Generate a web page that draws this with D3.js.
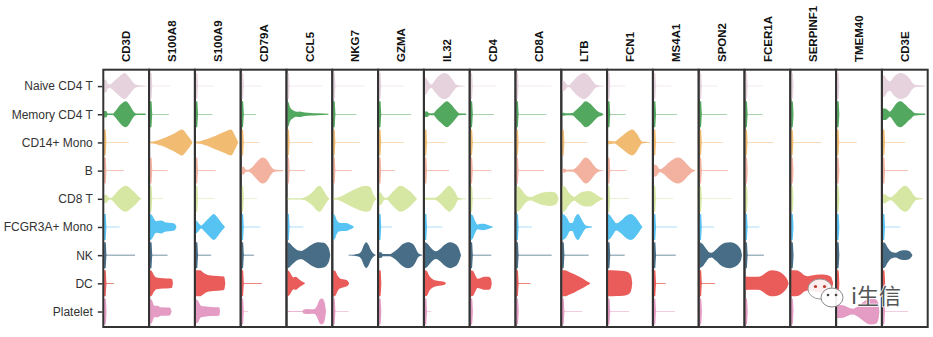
<!DOCTYPE html>
<html><head><meta charset="utf-8">
<script src="https://cdn.jsdelivr.net/npm/d3@7"></script>
<style>body{margin:0;background:#fff}svg{display:block}</style>
</head><body><svg id="chart" width="933" height="337"></svg>
<script>
const cellTypes = ["Naive CD4 T","Memory CD4 T","CD14+ Mono","B","CD8 T","FCGR3A+ Mono","NK","DC","Platelet"];
const cellColors = ["#E5D2DD","#53A85F","#F1BB72","#F3B1A0","#D6E7A3","#57C3F3","#476D87","#E95C59","#E59CC4"];
const genes = ["CD3D","S100A8","S100A9","CD79A","CCL5","NKG7","GZMA","IL32","CD4","CD8A","LTB","FCN1","MS4A1","SPON2","FCER1A","SERPINF1","TMEM40","CD3E"];

// One entry per cell type. A number = a zero-spike violin whose sparse tail reaches that fraction of the gene's max;
// an array = violin profile as [expression (fraction of gene max), relative density].
const vCD3D = [
 [[0,0.45],[0.04,0.5],[0.08,0.2],[0.12,0.12],[0.2,0.3],[0.3,0.6],[0.4,0.9],[0.47,1],[0.55,0.75],[0.63,0.4],[0.7,0.15],[0.8,0.06],[0.96,0.03]],
 [[0,0.25],[0.05,0.25],[0.08,0.06],[0.2,0.06],[0.24,0.2],[0.3,0.45],[0.39,0.8],[0.49,1],[0.58,0.7],[0.64,0.35],[0.7,0.1],[0.75,0.05],[0.94,0.05]],
 0.56, 0.45,
 [[0,0.32],[0.05,0.32],[0.1,0.12],[0.15,0.06],[0.23,0.3],[0.34,0.7],[0.49,1],[0.64,0.65],[0.75,0.3],[0.81,0.08],[0.85,0.02]],
 0.35, 0.7, 0.22, 0
];
const vS100A8 = [
 0.47, 0.43,
 [[0,0.06],[0.13,0.12],[0.28,0.28],[0.43,0.5],[0.58,0.75],[0.73,1],[0.84,0.6],[0.92,0.25],[0.96,0.03]],
 0.4, 0.3,
 [[0,1],[0.05,0.9],[0.1,0.6],[0.14,0.45],[0.25,0.5],[0.36,0.35],[0.5,0.3],[0.56,0.25],[0.6,0.02]],
 0.4,
 [[0,1],[0.04,0.95],[0.09,0.65],[0.15,0.45],[0.3,0.4],[0.45,0.37],[0.5,0.33],[0.52,0.02]],
 [[0,0.95],[0.04,0.9],[0.1,0.45],[0.17,0.45],[0.25,0.32],[0.45,0.3],[0.49,0.02]]
];
const vS100A9 = [
 0.4, 0.38,
 [[0,0.08],[0.1,0.1],[0.2,0.2],[0.35,0.38],[0.5,0.6],[0.64,0.8],[0.8,1],[0.88,0.6],[0.93,0.25],[0.96,0.03]],
 0.45, 0.42,
 [[0,0.5],[0.03,0.45],[0.08,0.25],[0.12,0.12],[0.2,0.35],[0.3,0.7],[0.41,1],[0.51,0.65],[0.6,0.25],[0.66,0.02]],
 0.35,
 [[0,1],[0.1,1],[0.15,0.9],[0.22,0.72],[0.3,0.62],[0.5,0.57],[0.64,0.52],[0.67,0.02]],
 [[0,0.95],[0.05,0.85],[0.12,0.45],[0.2,0.4],[0.35,0.35],[0.53,0.33],[0.55,0.02]]
];
const vCD79A = [
 0.45, 0.33, 0.4,
 [[0,0.3],[0.05,0.3],[0.09,0.1],[0.15,0.06],[0.22,0.2],[0.33,0.6],[0.48,1],[0.59,0.75],[0.66,0.35],[0.72,0.12],[0.78,0.06],[0.94,0.04]],
 0.35, 0.43, 0.28, 0.46, 0.15
];
const vCCL5 = [
 0.8,
 [[0,1],[0.03,0.9],[0.06,0.55],[0.13,0.3],[0.21,0.2],[0.28,0.22],[0.4,0.14],[0.54,0.1],[0.69,0.07],[0.93,0.04]],
 0.58, 0.4,
 [[0,0.1],[0.05,0.05],[0.3,0.05],[0.4,0.12],[0.49,0.3],[0.58,0.55],[0.67,0.9],[0.73,1],[0.83,0.6],[0.9,0.2],[0.95,0.03]],
 0.36,
 [[0,1],[0.04,0.95],[0.13,0.65],[0.25,0.35],[0.32,0.32],[0.4,0.45],[0.5,0.7],[0.6,0.9],[0.7,1],[0.82,0.95],[0.9,0.75],[0.95,0.4],[0.97,0.05]],
 [[0,1],[0.05,0.9],[0.1,0.6],[0.14,0.45],[0.19,0.5],[0.25,0.35],[0.31,0.2],[0.36,0.1],[0.4,0.02]],
 [[0,0.05],[0.05,0.03],[0.34,0.03],[0.37,0.15],[0.45,0.2],[0.55,0.18],[0.62,0.2],[0.68,0.5],[0.73,0.9],[0.78,1],[0.83,0.85],[0.86,0.4],[0.875,0.03]]
];
const vNKG7 = [
 0.72, 0.53, 0.6, 0.42,
 [[0,0.1],[0.05,0.06],[0.13,0.12],[0.27,0.35],[0.42,0.62],[0.57,0.85],[0.75,1],[0.84,0.9],[0.9,0.45],[0.95,0.12],[0.98,0.03]],
 [[0,1],[0.04,0.9],[0.08,0.55],[0.13,0.35],[0.2,0.3],[0.3,0.3],[0.38,0.2],[0.44,0.1],[0.47,0.02]],
 [[0.35,0.03],[0.46,0.04],[0.57,0.1],[0.64,0.3],[0.7,0.8],[0.75,1],[0.8,0.8],[0.86,0.35],[0.92,0.1],[0.96,0.03]],
 [[0,1],[0.05,0.95],[0.1,0.6],[0.15,0.4],[0.22,0.32],[0.3,0.25],[0.34,0.15],[0.36,0.02]],
 0.35
];
const vGZMA = [
 0.58, 0.73, 0.56, 0.36,
 [[0,0.45],[0.04,0.48],[0.08,0.3],[0.13,0.08],[0.19,0.1],[0.25,0.3],[0.36,0.7],[0.49,1],[0.62,0.8],[0.73,0.5],[0.81,0.2],[0.86,0.02]],
 0.3,
 [[0,0.2],[0.05,0.22],[0.09,0.08],[0.25,0.08],[0.32,0.2],[0.43,0.5],[0.54,0.85],[0.66,1],[0.77,0.85],[0.83,0.55],[0.88,0.2],[0.92,0.08],[0.98,0.03]],
 0, 0
];
const vIL32 = [
 [[0,0.7],[0.05,0.55],[0.1,0.25],[0.15,0.12],[0.23,0.45],[0.34,0.85],[0.45,1],[0.56,0.8],[0.65,0.4],[0.72,0.1],[0.8,0.05],[0.91,0.03]],
 [[0,0.22],[0.06,0.22],[0.1,0.08],[0.2,0.08],[0.26,0.3],[0.38,0.7],[0.5,1],[0.6,0.75],[0.71,0.3],[0.78,0.08],[0.94,0.05]],
 0.48, 0.55,
 [[0,0.08],[0.22,0.08],[0.3,0.2],[0.38,0.45],[0.49,0.85],[0.55,1],[0.63,0.8],[0.7,0.45],[0.75,0.12],[0.82,0.05],[0.94,0.03]],
 0.4,
 [[0,1],[0.04,0.95],[0.12,0.65],[0.19,0.4],[0.26,0.3],[0.34,0.45],[0.45,0.8],[0.57,1],[0.67,0.9],[0.76,0.6],[0.8,0.25],[0.82,0.02]],
 [[0,1],[0.05,0.95],[0.1,0.6],[0.19,0.3],[0.26,0.22],[0.37,0.16],[0.45,0.1],[0.48,0.02]],
 0.15
];
const vCD4 = [
 0.58, 0.53, 0.97, 0.47, 0.5,
 [[0,1],[0.05,0.9],[0.1,0.5],[0.16,0.18],[0.21,0.22],[0.29,0.25],[0.38,0.18],[0.46,0.08],[0.51,0.02]],
 0.47,
 [[0,1],[0.06,0.95],[0.11,0.6],[0.16,0.35],[0.23,0.42],[0.32,0.5],[0.41,0.5],[0.46,0.38],[0.48,0.02]],
 0.05
];
const vCD8A = [
 0.8, 0.68, 0.66, 0.63,
 [[0,1],[0.05,0.95],[0.12,0.7],[0.2,0.35],[0.28,0.15],[0.34,0.14],[0.42,0.25],[0.52,0.4],[0.64,0.5],[0.76,0.55],[0.86,0.5],[0.92,0.35],[0.95,0.05]],
 0.35, 0.8, 0.32, 0
];
const vLTB = [
 [[0,0.4],[0.05,0.38],[0.1,0.15],[0.15,0.08],[0.24,0.35],[0.35,0.75],[0.5,1],[0.61,0.75],[0.7,0.35],[0.77,0.1],[0.85,0.05],[0.95,0.03]],
 [[0,0.12],[0.06,0.1],[0.1,0.07],[0.24,0.1],[0.31,0.3],[0.42,0.65],[0.53,1],[0.64,0.8],[0.75,0.4],[0.82,0.2],[0.9,0.1],[0.93,0.03]],
 0.57,
 [[0,0.15],[0.07,0.15],[0.1,0.07],[0.24,0.08],[0.35,0.35],[0.42,0.65],[0.53,1],[0.63,0.8],[0.72,0.4],[0.79,0.15],[0.86,0.05],[0.93,0.03]],
 [[0,1],[0.06,0.95],[0.14,0.55],[0.22,0.25],[0.28,0.15],[0.36,0.35],[0.47,0.55],[0.6,0.6],[0.72,0.45],[0.8,0.25],[0.88,0.1],[0.93,0.03]],
 [[0,1],[0.05,0.95],[0.12,0.65],[0.18,0.3],[0.23,0.3],[0.3,0.8],[0.36,1],[0.44,0.6],[0.5,0.25],[0.55,0.1],[0.68,0.04]],
 0.6,
 [[0,1],[0.06,1],[0.17,0.85],[0.28,0.7],[0.39,0.5],[0.5,0.3],[0.57,0.15],[0.61,0.08],[0.63,0.02]],
 0.46
];
const vFCN1 = [
 0.4, 0.4,
 [[0,0.15],[0.06,0.12],[0.15,0.08],[0.23,0.25],[0.34,0.55],[0.45,0.85],[0.55,1],[0.65,0.7],[0.72,0.3],[0.77,0.08],[0.85,0.05],[0.95,0.03]],
 0.42, 0.48,
 [[0,1],[0.05,0.9],[0.12,0.55],[0.19,0.28],[0.3,0.5],[0.41,0.85],[0.52,1],[0.61,0.8],[0.7,0.4],[0.76,0.1],[0.78,0.02]],
 0.38,
 [[0,1],[0.2,0.98],[0.35,0.95],[0.43,0.9],[0.48,0.8],[0.52,0.6],[0.54,0.3],[0.55,0.02]],
 0.48
];
const vMS4A1 = [
 0.4, 0.53, 0.48,
 [[0,0.45],[0.05,0.45],[0.1,0.25],[0.14,0.1],[0.24,0.3],[0.35,0.65],[0.45,0.9],[0.56,1],[0.67,0.8],[0.78,0.4],[0.87,0.12],[0.94,0.03]],
 0.45, 0.53, 0.5, 0.27, 0.48
];
const vSPON2 = [
 0.4, 0.62, 0.53, 0.64, 0.73, 0.33,
 [[0,1],[0.06,0.9],[0.15,0.5],[0.22,0.22],[0.27,0.18],[0.36,0.4],[0.47,0.75],[0.58,0.95],[0.69,1],[0.8,0.9],[0.89,0.65],[0.94,0.35],[0.96,0.03]],
 0.35, 0
];
const vFCER1A = [
 0.4, 0.39, 0.64, 0, 0, 0.32, 0.42,
 [[0,0.52],[0.16,0.5],[0.28,0.5],[0.38,0.6],[0.48,0.85],[0.6,1],[0.72,0.95],[0.82,0.8],[0.9,0.55],[0.95,0.3],[0.98,0.03]],
 0
];
const vSERPINF1 = [
 0, 0, 0.69, 0, 0, 0, 0,
 [[0,1],[0.1,1],[0.2,0.9],[0.3,0.62],[0.38,0.55],[0.5,0.62],[0.65,0.68],[0.8,0.65],[0.9,0.5],[0.95,0.05]],
 0
];
const vTMEM40 = [
 0, 0, 0.45, 0, 0, 0, 0, 0,
 [[0,0.5],[0.1,0.5],[0.2,0.4],[0.3,0.25],[0.37,0.22],[0.45,0.35],[0.55,0.6],[0.67,0.9],[0.78,1],[0.88,0.95],[0.94,0.6],[0.96,0.03]]
];
const vCD3E = [
 [[0,0.85],[0.04,0.8],[0.1,0.5],[0.16,0.35],[0.25,0.7],[0.4,1],[0.51,0.9],[0.6,0.6],[0.67,0.25],[0.75,0.08],[0.96,0.04]],
 [[0,0.45],[0.06,0.45],[0.12,0.3],[0.16,0.2],[0.25,0.55],[0.33,0.9],[0.4,1],[0.51,0.75],[0.58,0.5],[0.65,0.3],[0.72,0.1],[0.8,0.07],[0.96,0.05]],
 0.51, 0.58,
 [[0,0.35],[0.05,0.35],[0.11,0.2],[0.18,0.12],[0.29,0.4],[0.4,0.8],[0.51,1],[0.62,0.7],[0.7,0.3],[0.76,0.1],[0.91,0.04]],
 0.4,
 [[0,1],[0.05,0.95],[0.1,0.65],[0.18,0.3],[0.25,0.2],[0.3,0.18],[0.38,0.32],[0.47,0.38],[0.56,0.35],[0.63,0.22],[0.67,0.02]],
 0, 0.58
];
const violinSets = [vCD3D,vS100A8,vS100A9,vCD79A,vCCL5,vNKG7,vGZMA,vIL32,vCD4,vCD8A,vLTB,vFCN1,vMS4A1,vSPON2,vFCER1A,vSERPINF1,vTMEM40,vCD3E];

const svg = d3.select("#chart");
const FONT = "'Liberation Sans', Arial, Helvetica, sans-serif";
const xBand = d3.scaleBand().domain(genes).range([103.3, 927.7]).paddingInner(0).paddingOuter(0);
const y = d3.scalePoint().domain(cellTypes).range([70.3, 327.3]).padding(0.56);
const wScale = d3.scaleLinear().domain([0, 1]).range([0, 13]);
const color = d3.scaleOrdinal().domain(cellTypes).range(cellColors);

function profileOf(entry) {
  if (Array.isArray(entry)) return entry;
  return entry > 0.06 ? [[0,1],[0.035,1],[0.055,0.022],[entry,0.022]] : [[0,1],[0.035,1],[0.055,0.022]];
}

const gPanels = svg.append("g");
genes.forEach((gene, gi) => {
  const L = xBand(gene), bw = xBand.bandwidth();
  const x = d3.scaleLinear().domain([0, 1]).range([L + 0.8, L + bw - 0.8]);
  const pg = gPanels.append("g");
  cellTypes.forEach((ct, ci) => {
    const cy = y(ct);
    const area = d3.area()
      .x(d => x(d[0]))
      .y0(d => cy - wScale(d[1]))
      .y1(d => cy + wScale(d[1]))
      .curve(d3.curveMonotoneX);
    pg.append("path").attr("d", area(profileOf(violinSets[gi][ci])))
      .attr("fill", color(ct)).attr("stroke", "none");
  });
  pg.append("rect").attr("x", L).attr("y", 69.7).attr("width", bw).attr("height", 257.3)
    .attr("fill", "none").attr("stroke", "#333").attr("stroke-width", 2);
  svg.append("text")
    .attr("transform", `translate(${L + bw / 2},62) rotate(-90)`)
    .attr("dy", "0.36em").attr("text-anchor", "start")
    .attr("font-family", FONT).attr("font-weight", "bold").attr("font-size", 11.5)
    .attr("fill", "#111").text(gene);
});

const yAxis = svg.append("g").attr("transform", "translate(102.3,0)")
  .call(d3.axisLeft(y).tickSize(4.5).tickPadding(5));
yAxis.select(".domain").remove();
yAxis.selectAll(".tick line").attr("stroke", "#333").attr("stroke-width", 1.5);
yAxis.selectAll(".tick text").attr("font-family", FONT).attr("font-size", 12).attr("fill", "#333");

// watermark
const wm = svg.append("g");
wm.append("ellipse").attr("cx", 820).attr("cy", 289).attr("rx", 12).attr("ry", 10)
  .attr("fill", "#fff").attr("fill-opacity", 0.9).attr("stroke", "#999").attr("stroke-width", 1);
wm.append("circle").attr("cx", 815.5).attr("cy", 286.5).attr("r", 1.6).attr("fill", "#c0392b");
wm.append("circle").attr("cx", 824.5).attr("cy", 286.5).attr("r", 1.6).attr("fill", "#c0392b");
wm.append("ellipse").attr("cx", 832).attr("cy", 297.5).attr("rx", 11).attr("ry", 9.5)
  .attr("fill", "#fff").attr("fill-opacity", 0.92).attr("stroke", "#888").attr("stroke-width", 1);
wm.append("circle").attr("cx", 828).attr("cy", 295).attr("r", 1.3).attr("fill", "#444");
wm.append("circle").attr("cx", 836).attr("cy", 295).attr("r", 1.3).attr("fill", "#444");
wm.append("text").attr("x", 851).attr("y", 304)
  .attr("font-family", "'Noto Sans CJK SC', sans-serif").attr("font-size", 22)
  .attr("fill", "#555").attr("stroke", "#fff").attr("stroke-width", 1.5).attr("paint-order", "stroke")
  .text("i生信");
</script>
</body></html>
